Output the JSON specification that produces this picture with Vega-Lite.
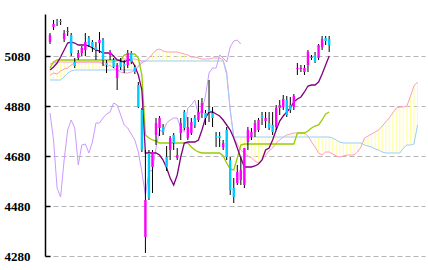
{
  "$schema": "https://vega.github.io/schema/vega-lite/v6.json",
  "width": 380,
  "height": 242,
  "autosize": {"type": "none"},
  "padding": {"left": 45, "top": 14, "right": 3, "bottom": 14},
  "background": "white",
  "config": {
    "view": {"stroke": null},
    "axisY": {
      "grid": true, "gridDash": [5, 3], "gridColor": "#b4b4b4", "gridWidth": 1,
      "domainColor": "#000000", "domainWidth": 1.5,
      "tickColor": "#000000", "tickSize": -5, "tickWidth": 1.5,
      "labelPadding": 20, "labelFont": "Liberation Sans Narrow", "labelFontSize": 13, "labelFontWeight": "bold",
      "labelColor": "#000000", "title": null, "format": "d"
    }
  },
  "data": {"values": [
    {"i": -1, "o": 5136, "h": 5172, "l": 5128, "c": 5164, "t": 5024, "k": 5032, "z": 4852, "a": 5048, "m": 5004, "b": 4984},
    {"i": 0, "o": 5196, "h": 5224, "l": 5184, "c": 5208, "t": 5036, "k": 5056, "z": 4744, "a": 5052, "m": 5012, "b": 4984},
    {"i": 1, "o": 5220, "h": 5228, "l": 5200, "c": 5214, "t": 5052, "k": 5064, "z": 4552, "a": 5056, "m": 5008, "b": 4984},
    {"i": 2, "o": 5220, "h": 5228, "l": 5204, "c": 5216, "t": 5076, "k": 5064, "z": 4516, "a": 5056, "m": 5020, "b": 4984},
    {"i": 3, "o": 5148, "h": 5184, "l": 5136, "c": 5172, "t": 5104, "k": 5064, "z": 4664, "a": 5056, "m": 5028, "b": 4996},
    {"i": 4, "o": 5176, "h": 5196, "l": 5160, "c": 5180, "t": 5132, "k": 5064, "z": 4784, "a": 5056, "m": 5032, "b": 5012},
    {"i": 5, "o": 5164, "h": 5172, "l": 5080, "c": 5092, "t": 5136, "k": 5064, "z": 4824, "a": 5056, "m": 5044, "b": 5020},
    {"i": 6, "o": 5056, "h": 5072, "l": 5032, "c": 5040, "t": 5132, "k": 5064, "z": 4792, "a": 5056, "m": 5052, "b": 5024},
    {"i": 7, "o": 5072, "h": 5104, "l": 5064, "c": 5092, "t": 5124, "k": 5064, "z": 4644, "a": 5056, "m": 5056, "b": 5024},
    {"i": 8, "o": 5092, "h": 5120, "l": 5080, "c": 5112, "t": 5124, "k": 5064, "z": 4724, "a": 5056, "m": 5056, "b": 5024},
    {"i": 9, "o": 5104, "h": 5172, "l": 5080, "c": 5136, "t": 5124, "k": 5064, "z": 4728, "a": 5056, "m": 5056, "b": 5024},
    {"i": 10, "o": 5152, "h": 5160, "l": 5116, "c": 5124, "t": 5120, "k": 5064, "z": 4692, "a": 5056, "m": 5056, "b": 5024},
    {"i": 11, "o": 5136, "h": 5144, "l": 5096, "c": 5116, "t": 5112, "k": 5064, "z": 4736, "a": 5056, "m": 5056, "b": 5024},
    {"i": 12, "o": 5116, "h": 5136, "l": 5064, "c": 5104, "t": 5104, "k": 5064, "z": 4812, "a": 5056, "m": 5056, "b": 5024},
    {"i": 13, "o": 5132, "h": 5176, "l": 5092, "c": 5144, "t": 5100, "k": 5064, "z": 4812, "a": 5056, "m": 5056, "b": 5024},
    {"i": 14, "o": 5144, "h": 5152, "l": 5040, "c": 5064, "t": 5092, "k": 5064, "z": 4832, "a": 5056, "m": 5048, "b": 5024},
    {"i": 15, "o": 5052, "h": 5064, "l": 5012, "c": 5044, "t": 5092, "k": 5064, "z": 4848, "a": 5056, "m": 5036, "b": 5024},
    {"i": 16, "o": 5084, "h": 5104, "l": 5064, "c": 5096, "t": 5092, "k": 5064, "z": 4856, "a": 5056, "m": 5044, "b": 5024},
    {"i": 17, "o": 5064, "h": 5072, "l": 5032, "c": 5036, "t": 5080, "k": 5064, "z": 4892, "a": 5056, "m": 5032, "b": 5024},
    {"i": 18, "o": 4992, "h": 5052, "l": 4944, "c": 5044, "t": 5064, "k": 5064, "z": 4884, "a": 5060, "m": 5024, "b": 5024},
    {"i": 19, "o": 5056, "h": 5072, "l": 5024, "c": 5036, "t": 5060, "k": 5064, "z": 4844, "a": 5068, "m": 5016, "b": 5024},
    {"i": 20, "o": 5048, "h": 5064, "l": 5012, "c": 5040, "t": 5056, "k": 5084, "z": 4804, "a": 5068, "m": 5012, "b": 5024},
    {"i": 21, "o": 5044, "h": 5104, "l": 5032, "c": 5092, "t": 5064, "k": 5088, "z": 4792, "a": 5068, "m": 5012, "b": 5024},
    {"i": 22, "o": 5092, "h": 5100, "l": 5048, "c": 5056, "t": 5064, "k": 5088, "z": 4768, "a": 5068, "m": 5016, "b": 5024},
    {"i": 23, "o": 5036, "h": 5044, "l": 5008, "c": 5016, "t": 5040, "k": 5088, "z": 4744, "a": 5068, "m": 5024, "b": 5024},
    {"i": 24, "o": 4964, "h": 4976, "l": 4872, "c": 4876, "t": 5004, "k": 5072, "z": 4696, "a": 5064, "m": 5036, "b": 5040},
    {"i": 25, "o": 4864, "h": 4872, "l": 4696, "c": 4704, "t": 4944, "k": 5004, "z": 4616, "a": 5060, "m": 5052, "b": 5060},
    {"i": 26, "o": 4356, "h": 4704, "l": 4292, "c": 4504, "t": 4692, "k": 4764, "z": 4524, "a": 5060, "m": 5060, "b": 5060},
    {"i": 27, "o": 4692, "h": 4704, "l": 4504, "c": 4512, "t": 4692, "k": 4752, "z": 4616, "a": 5072, "b": 5060},
    {"i": 28, "o": 4636, "h": 4704, "l": 4532, "c": 4696, "t": 4692, "k": 4744, "z": 4624, "a": 5088, "b": 5060},
    {"i": 29, "o": 4764, "h": 4832, "l": 4724, "c": 4812, "t": 4692, "k": 4740, "z": 4712, "a": 5104, "b": 5060},
    {"i": 30, "o": 4792, "h": 4840, "l": 4760, "c": 4832, "t": 4684, "k": 4732, "z": 4784, "a": 5108, "b": 5060},
    {"i": 31, "o": 4796, "h": 4808, "l": 4764, "c": 4776, "t": 4664, "k": 4732, "z": 4776, "a": 5100, "b": 5060},
    {"i": 32, "o": 4676, "h": 4720, "l": 4620, "c": 4636, "t": 4632, "k": 4732, "z": 4812, "a": 5096, "b": 5060},
    {"i": 33, "o": 4704, "h": 4760, "l": 4664, "c": 4752, "t": 4592, "k": 4732, "z": 4824, "a": 5096, "b": 5060},
    {"i": 34, "o": 4764, "h": 4772, "l": 4704, "c": 4732, "t": 4564, "k": 4732, "z": 4832, "a": 5096, "b": 5060},
    {"i": 35, "o": 4672, "h": 4712, "l": 4664, "c": 4684, "t": 4604, "k": 4732, "z": 4832, "a": 5096, "b": 5060},
    {"i": 36, "o": 4772, "h": 4832, "l": 4744, "c": 4812, "t": 4676, "k": 4732, "z": 4792, "a": 5092, "b": 5060},
    {"i": 37, "o": 4856, "h": 4864, "l": 4784, "c": 4792, "t": 4732, "k": 4732, "z": 4776, "a": 5088, "b": 5060},
    {"i": 38, "o": 4752, "h": 4836, "l": 4744, "c": 4796, "t": 4736, "k": 4732, "z": 4872, "a": 5084, "b": 5060},
    {"i": 39, "o": 4772, "h": 4832, "l": 4764, "c": 4816, "t": 4736, "k": 4716, "z": 4884, "a": 5076, "b": 5060},
    {"i": 40, "o": 4832, "h": 4844, "l": 4792, "c": 4804, "t": 4736, "k": 4704, "z": 4904, "a": 5076, "b": 5060},
    {"i": 41, "o": 4824, "h": 4904, "l": 4816, "c": 4856, "t": 4744, "k": 4696, "z": 4844, "a": 5072, "b": 5060},
    {"i": 42, "o": 4852, "h": 4912, "l": 4832, "c": 4892, "t": 4784, "k": 4692, "z": 4864, "a": 5068, "b": 5060},
    {"i": 43, "o": 4852, "h": 4864, "l": 4804, "c": 4832, "t": 4832, "k": 4692, "z": 4920, "a": 5068, "b": 5060},
    {"i": 44, "o": 4864, "h": 4984, "l": 4816, "c": 4856, "t": 4856, "k": 4692, "z": 5012, "a": 5068, "b": 5060},
    {"i": 45, "o": 4852, "h": 4876, "l": 4796, "c": 4832, "t": 4856, "k": 4692, "z": 5032, "a": 5072, "b": 5060},
    {"i": 46, "o": 4760, "h": 4776, "l": 4716, "c": 4752, "t": 4848, "k": 4692, "z": 5032, "a": 5072, "b": 5060},
    {"i": 47, "o": 4760, "h": 4776, "l": 4716, "c": 4752, "t": 4840, "k": 4692, "z": 5084, "a": 5072, "b": 5060},
    {"i": 48, "o": 4716, "h": 4744, "l": 4704, "c": 4732, "t": 4824, "k": 4680, "z": 5072, "a": 5064, "b": 5060},
    {"i": 49, "o": 4784, "h": 4796, "l": 4664, "c": 4676, "t": 4804, "k": 4652, "z": 5056, "a": 5016, "b": 5004},
    {"i": 50, "o": 4664, "h": 4676, "l": 4524, "c": 4544, "t": 4784, "k": 4628, "z": 5116, "a": 4864, "b": 4864},
    {"i": 51, "o": 4552, "h": 4592, "l": 4492, "c": 4516, "t": 4752, "k": 4624, "z": 5140, "a": 4752, "b": 4756},
    {"i": 52, "o": 4572, "h": 4644, "l": 4564, "c": 4616, "t": 4712, "k": 4672, "z": 5144, "a": 4728, "b": 4756},
    {"i": 53, "o": 4584, "h": 4676, "l": 4564, "c": 4624, "t": 4672, "k": 4724, "z": 5128, "a": 4704, "b": 4756},
    {"i": 54, "o": 4564, "h": 4712, "l": 4552, "c": 4712, "t": 4636, "k": 4728, "a": 4692, "b": 4756},
    {"i": 55, "o": 4736, "h": 4796, "l": 4704, "c": 4784, "t": 4636, "k": 4728, "a": 4680, "b": 4756},
    {"i": 56, "o": 4756, "h": 4792, "l": 4744, "c": 4776, "t": 4636, "k": 4728, "a": 4672, "b": 4756},
    {"i": 57, "o": 4776, "h": 4824, "l": 4756, "c": 4812, "t": 4640, "k": 4728, "a": 4660, "b": 4756},
    {"i": 58, "o": 4784, "h": 4832, "l": 4776, "c": 4824, "t": 4648, "k": 4728, "a": 4652, "b": 4756},
    {"i": 59, "o": 4844, "h": 4856, "l": 4804, "c": 4832, "t": 4664, "k": 4728, "a": 4664, "b": 4756},
    {"i": 60, "o": 4820, "h": 4856, "l": 4792, "c": 4832, "t": 4704, "k": 4728, "a": 4684, "b": 4756},
    {"i": 61, "o": 4812, "h": 4856, "l": 4784, "c": 4792, "t": 4712, "k": 4728, "a": 4700, "b": 4756},
    {"i": 62, "o": 4804, "h": 4856, "l": 4764, "c": 4776, "t": 4744, "k": 4728, "a": 4712, "b": 4756},
    {"i": 63, "o": 4796, "h": 4884, "l": 4784, "c": 4872, "t": 4784, "k": 4728, "a": 4732, "b": 4756},
    {"i": 64, "o": 4872, "h": 4904, "l": 4844, "c": 4884, "t": 4820, "k": 4728, "a": 4744, "b": 4756},
    {"i": 65, "o": 4876, "h": 4924, "l": 4864, "c": 4908, "t": 4840, "k": 4728, "a": 4756, "b": 4756},
    {"i": 66, "o": 4904, "h": 4920, "l": 4836, "c": 4844, "t": 4856, "k": 4728, "a": 4764, "b": 4756},
    {"i": 67, "o": 4884, "h": 4916, "l": 4852, "c": 4864, "t": 4872, "k": 4728, "a": 4768, "b": 4756},
    {"i": 68, "o": 4876, "h": 4928, "l": 4864, "c": 4920, "t": 4896, "k": 4728, "a": 4772, "b": 4756},
    {"i": 69, "o": 5028, "h": 5052, "l": 5004, "c": 5032, "t": 4908, "k": 4772, "a": 4772, "b": 4756},
    {"i": 70, "o": 5028, "h": 5044, "l": 5016, "c": 5032, "t": 4916, "k": 4772, "a": 4772, "b": 4756},
    {"i": 71, "o": 5016, "h": 5044, "l": 5004, "c": 5032, "t": 4936, "k": 4772, "a": 4772, "b": 4756},
    {"i": 72, "o": 5044, "h": 5104, "l": 5016, "c": 5096, "t": 4960, "k": 4780, "a": 4760, "b": 4756},
    {"i": 73, "o": 5072, "h": 5084, "l": 5064, "c": 5076, "t": 4964, "k": 4792, "a": 4736, "b": 4756},
    {"i": 74, "o": 5084, "h": 5096, "l": 5052, "c": 5056, "t": 4964, "k": 4800, "a": 4716, "b": 4756},
    {"i": 75, "o": 5072, "h": 5128, "l": 5064, "c": 5124, "t": 4976, "k": 4804, "a": 4692, "b": 4756},
    {"i": 76, "o": 5116, "h": 5160, "l": 5104, "c": 5148, "t": 5008, "k": 4824, "a": 4684, "b": 4756},
    {"i": 77, "o": 5152, "h": 5160, "l": 5124, "c": 5140, "t": 5044, "k": 4848, "a": 4696, "b": 4756},
    {"i": 78, "o": 5148, "h": 5160, "l": 5096, "c": 5124, "t": 5080, "k": 4856, "a": 4696, "b": 4756},
    {"i": 79, "a": 4688, "b": 4752},
    {"i": 80, "a": 4680, "b": 4744},
    {"i": 81, "a": 4676, "b": 4736},
    {"i": 82, "a": 4680, "b": 4732},
    {"i": 83, "a": 4684, "b": 4732},
    {"i": 84, "a": 4684, "b": 4732},
    {"i": 85, "a": 4684, "b": 4732},
    {"i": 86, "a": 4696, "b": 4732},
    {"i": 87, "a": 4716, "b": 4732},
    {"i": 88, "a": 4752, "b": 4724},
    {"i": 89, "a": 4760, "b": 4720},
    {"i": 90, "a": 4768, "b": 4716},
    {"i": 91, "a": 4776, "b": 4708},
    {"i": 92, "a": 4784, "b": 4704},
    {"i": 93, "a": 4800, "b": 4696},
    {"i": 94, "a": 4816, "b": 4692},
    {"i": 95, "a": 4832, "b": 4692},
    {"i": 96, "a": 4852, "b": 4692},
    {"i": 97, "a": 4872, "b": 4692},
    {"i": 98, "a": 4876, "b": 4692},
    {"i": 99, "a": 4876, "b": 4712},
    {"i": 100, "a": 4880, "b": 4724},
    {"i": 101, "a": 4920, "b": 4724},
    {"i": 102, "a": 4960, "b": 4728},
    {"i": 103, "a": 4976, "b": 4804}
  ]},
  "encoding": {
    "x": {"field": "i", "type": "quantitative", "scale": {"domain": [-1, 103.7], "nice": false, "zero": false}, "axis": null}
  },
  "layer": [
    {
      "transform": [{"filter": "isValid(datum.a)"}],
      "mark": {"type": "rule", "color": "#ffff99", "strokeWidth": 1, "clip": true},
      "encoding": {
        "y": {"field": "a", "type": "quantitative", "scale": {"domain": [4280, 5248], "nice": false, "zero": false},
              "axis": {"values": [4280, 4480, 4680, 4880, 5080]}},
        "y2": {"field": "b"}
      }
    },
    {
      "transform": [{"filter": "isValid(datum.a)"}],
      "mark": {"type": "line", "color": "#ff99cc", "strokeWidth": 1, "clip": true},
      "encoding": {
        "y": {"field": "a", "type": "quantitative", "axis": {"values": [4280, 4480, 4680, 4880, 5080]}}
      }
    },
    {
      "transform": [{"filter": "isValid(datum.m)"}],
      "mark": {"type": "line", "color": "#ff99cc", "strokeWidth": 1, "clip": true},
      "encoding": {
        "y": {"field": "m", "type": "quantitative", "axis": {"values": [4280, 4480, 4680, 4880, 5080]}}
      }
    },
    {
      "transform": [{"filter": "isValid(datum.b)"}],
      "mark": {"type": "line", "color": "#99ccff", "strokeWidth": 1, "clip": true},
      "encoding": {
        "y": {"field": "b", "type": "quantitative", "axis": {"values": [4280, 4480, 4680, 4880, 5080]}}
      }
    },
    {
      "transform": [{"filter": "isValid(datum.z)"}],
      "mark": {"type": "line", "color": "#cc99ff", "strokeWidth": 1, "clip": true},
      "encoding": {
        "y": {"field": "z", "type": "quantitative", "axis": {"values": [4280, 4480, 4680, 4880, 5080]}}
      }
    },
    {
      "transform": [{"filter": "isValid(datum.k)"}],
      "mark": {"type": "line", "color": "#99cc00", "strokeWidth": 1.3, "clip": true},
      "encoding": {
        "y": {"field": "k", "type": "quantitative", "axis": {"values": [4280, 4480, 4680, 4880, 5080]}}
      }
    },
    {
      "transform": [{"filter": "isValid(datum.t)"}],
      "mark": {"type": "line", "color": "#800080", "strokeWidth": 1.3, "clip": true},
      "encoding": {
        "y": {"field": "t", "type": "quantitative", "axis": {"values": [4280, 4480, 4680, 4880, 5080]}}
      }
    },
    {
      "transform": [{"filter": "isValid(datum.o)"}],
      "mark": {"type": "rule", "color": "#000000", "strokeWidth": 1, "clip": true},
      "encoding": {
        "y": {"field": "l", "type": "quantitative", "axis": {"values": [4280, 4480, 4680, 4880, 5080]}},
        "y2": {"field": "h"}
      }
    },
    {
      "transform": [{"filter": "isValid(datum.o)"}],
      "mark": {"type": "bar", "size": 2.4, "clip": true},
      "encoding": {
        "y": {"field": "o", "type": "quantitative", "axis": {"values": [4280, 4480, 4680, 4880, 5080]}},
        "y2": {"field": "c"},
        "color": {"condition": {"test": "datum.c >= datum.o", "value": "#ff00ff"}, "value": "#00ccff"}
      }
    }
  ]
}
